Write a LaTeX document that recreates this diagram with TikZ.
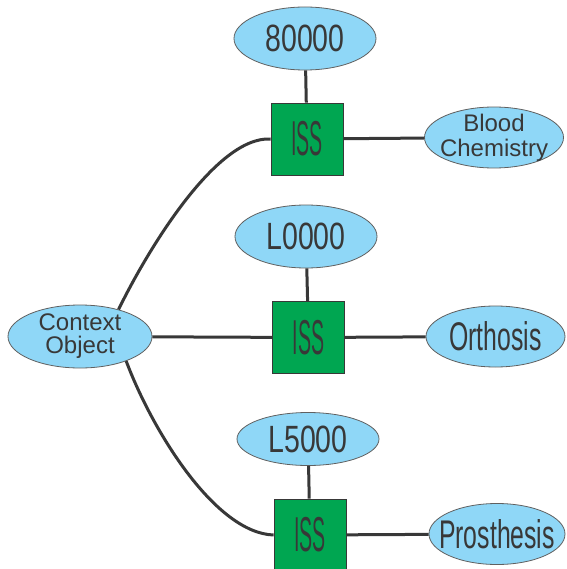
\documentclass[tikz,border=0pt]{standalone}
\usepackage{fontspec}
\setmainfont{Liberation Sans}
\usetikzlibrary{shapes.geometric}

\definecolor{skyblue}{HTML}{8FD7F7}
\definecolor{issgreen}{HTML}{00A651}
\definecolor{inkgray}{HTML}{383838}

\tikzset{
  blob/.style={ellipse, draw=inkgray!80, fill=skyblue, line width=0.8pt, inner sep=0pt},
  issbox/.style={rectangle, draw=inkgray, fill=issgreen, line width=0.8pt, minimum size=72},
  wire/.style={draw=inkgray, line width=3pt},
  txt/.style={text=inkgray, inner sep=0pt, align=center}
}

\begin{document}
\begin{tikzpicture}[x=1pt,y=-1pt]
  \clip (0,0) rectangle (566,569);
  \fill[white] (0,0) rectangle (566,569);

  % ellipses
  \node[blob, minimum width=144, minimum height=63] (ctx)    at (80,336.5)  {};
  \node[blob, minimum width=142, minimum height=63] (n80)    at (305,38.5)  {};
  \node[blob, minimum width=139, minimum height=61] (blood)  at (494,137.5) {};
  \node[blob, minimum width=142, minimum height=63] (nL0)    at (306,236.5) {};
  \node[blob, minimum width=139, minimum height=61] (orth)   at (495.5,336.5) {};
  \node[blob, minimum width=142, minimum height=53] (nL5)    at (308,439)   {};
  \node[blob, minimum width=136, minimum height=61] (prosth) at (497,534)   {};

  % ISS boxes
  \node[issbox] (iss1) at (307,139)   {};
  \node[issbox] (iss2) at (308.5,337.5) {};
  \node[issbox] (iss3) at (310,535)   {};

  % texts
  \node[txt, font=\fontsize{24}{23}\selectfont] (tctx) at (ctx) {Context\\Object};
  \node[txt, font=\fontsize{24}{25}\selectfont] (tblood) at (blood) {Blood\\Chemistry};
  \node[txt, font=\fontsize{38}{38}\selectfont] (t80) at (n80) {\scalebox{0.75}[1]{80000}};
  \node[txt, font=\fontsize{38}{38}\selectfont] (tL0) at (nL0) {\scalebox{0.75}[1]{L0000}};
  \node[txt, font=\fontsize{38}{38}\selectfont] (tL5) at (nL5) {\scalebox{0.75}[1]{L5000}};
  \node[txt, font=\fontsize{40}{40}\selectfont] (torth) at (orth) {\scalebox{0.62}[1]{Orthosis}};
  \node[txt, font=\fontsize{40}{40}\selectfont] (tprosth) at (prosth) {\scalebox{0.62}[1]{Prosthesis}};
  \foreach \i in {1,2,3}
    \node[txt, font=\fontsize{49}{49}\selectfont] (tiss\i) at (iss\i) {\scalebox{0.4}[1]{ISS}};

  % connectors
  \draw[wire] (n80) -- (iss1);
  \draw[wire] (iss1) -- (blood);
  \draw[wire] (nL0) -- (iss2);
  \draw[wire] (iss2) -- (orth);
  \draw[wire] (nL5) -- (iss3);
  \draw[wire] (iss3) -- (prosth);
  \draw[wire] (ctx) -- (iss2);
  \draw[wire] (ctx.35) .. controls (145,255) and (215,136) .. (iss1.west);
  \draw[wire] (ctx.-28) .. controls (152,430) and (215,533) .. (iss3.west);
\end{tikzpicture}
\end{document}
